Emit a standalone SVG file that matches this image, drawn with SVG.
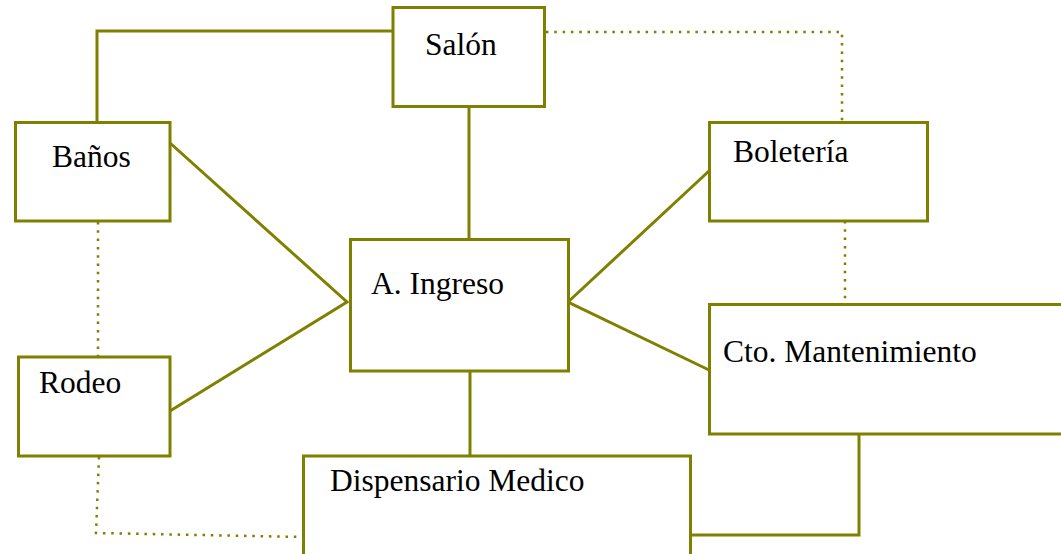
<svg xmlns="http://www.w3.org/2000/svg" width="1061" height="554" viewBox="0 0 1061 554">
<style>
.box{fill:#ffffff;stroke:#808000;stroke-width:3}
.ln{fill:none;stroke:#808000;stroke-width:3}
.dot{fill:none;stroke:#808000;stroke-width:2.5;stroke-dasharray:2.5 5.8}
.lbl{font-family:"Liberation Serif","Times New Roman",serif;font-size:31.5px;fill:#000000}
</style>
<rect width="1061" height="554" fill="#ffffff"/>
<g id="connectors">
<polyline class="ln" points="97,122 97,31 393,31"/>
<line class="ln" x1="469" y1="106" x2="469" y2="239"/>
<polyline class="ln" points="170,143 347,302 170,411"/>
<polyline class="ln" points="709,171 568,302 709,370"/>
<line class="ln" x1="470" y1="371" x2="470" y2="455"/>
<polyline class="ln" points="859,434 859,535 690,535"/>
<polyline class="dot" points="546,32 842,32 842,122"/>
<line class="dot" x1="845" y1="221" x2="845" y2="304"/>
<line class="dot" x1="98" y1="222" x2="98" y2="356"/>
<polyline class="dot" points="99,457 96,533 303,537"/>
</g>
<g id="salon"><rect class="box" x="393" y="7.5" width="151.5" height="99"/><text class="lbl" x="425" y="55">Salón</text></g>
<g id="banos"><rect class="box" x="15.5" y="122.5" width="154.5" height="98.5"/><text class="lbl" x="52" y="167">Baños</text></g>
<g id="boleteria"><rect class="box" x="709.5" y="122.5" width="218" height="98.5"/><text class="lbl" x="733" y="162">Boletería</text></g>
<g id="ingreso"><rect class="box" x="350.5" y="239.5" width="218" height="131.5"/><text class="lbl" x="371" y="294">A. Ingreso</text></g>
<g id="rodeo"><rect class="box" x="18.5" y="357" width="151.5" height="99"/><text class="lbl" x="39" y="393">Rodeo</text></g>
<g id="mantenimiento"><rect class="box" x="709.5" y="304.5" width="360" height="129.5"/><text class="lbl" x="723" y="362">Cto. Mantenimiento</text></g>
<g id="dispensario"><rect class="box" x="303.5" y="456" width="387" height="104"/><text class="lbl" x="330" y="491">Dispensario Medico</text></g>
</svg>
